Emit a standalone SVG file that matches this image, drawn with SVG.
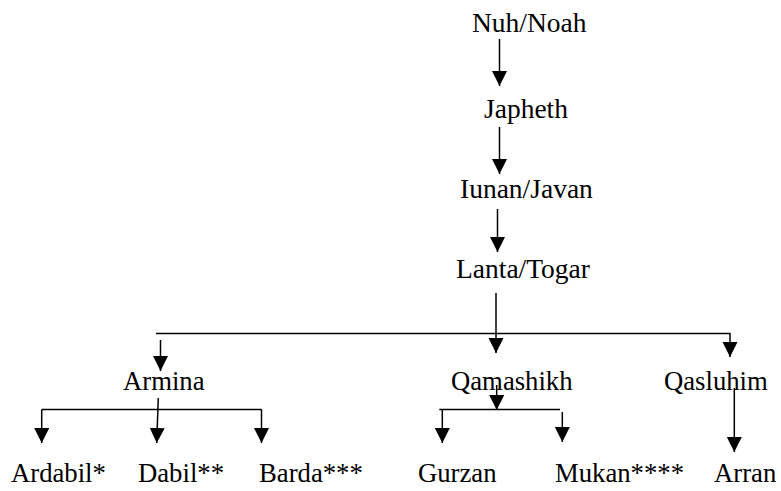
<svg xmlns="http://www.w3.org/2000/svg" width="781" height="491" viewBox="0 0 781 491">
  <defs>
    <marker id="arrow" markerUnits="userSpaceOnUse" markerWidth="16" markerHeight="16" refX="15" refY="7.5" orient="auto">
      <path d="M0,0 L15,7.5 L0,15 z" fill="#000"/>
    </marker>
  </defs>
  <style>
    text { font-family: 'Liberation Serif', Tinos, 'Times New Roman', 'Nimbus Roman', 'Noto Serif', 'DejaVu Serif', serif; fill: #000; }
    .top { font-size: 27.5px; }
    .low { font-size: 26.7px; }
    .ln { fill: none; stroke: #000; stroke-width: 1.5; }
    .arr { fill: none; stroke: #000; stroke-width: 1.5; marker-end: url(#arrow); }
  </style>
  <rect width="781" height="491" fill="#fff"/>

  <!-- connectors -->
  <g id="connectors">
    <path class="arr" d="M499.5,39 V86"/>
    <path class="arr" d="M499.5,127 V174"/>
    <path class="arr" d="M497.5,209 V252"/>
    <path class="arr" d="M496,293 V353"/>
    <path class="arr" d="M156,333.5 H730 V357"/>
    <path class="arr" d="M160.5,340 V371"/>
    <!-- Armina's children -->
    <path class="arr" d="M158.3,398 L156.7,443"/>
    <path class="ln" d="M41.7,409.5 H261.7"/>
    <path class="arr" d="M41.7,409.5 V443"/>
    <path class="arr" d="M261.5,409.5 V443"/>
    <!-- Qamashikh's children -->
    <path class="arr" d="M496.7,385 V410"/>
    <path class="ln" d="M439.3,409.5 H560"/>
    <path class="arr" d="M442.3,409.5 V443"/>
    <path class="arr" d="M562.3,412 V442"/>
    <!-- Qasluhim's child -->
    <path class="arr" d="M734.3,388 V452"/>
  </g>

  <g id="noah"><text class="top" x="472" y="32">Nuh/Noah</text></g>
  <g id="japheth"><text class="top" x="484" y="118">Japheth</text></g>
  <g id="javan"><text class="top" x="460" y="198">Iunan/Javan</text></g>
  <g id="togar"><text class="top" x="456" y="278">Lanta/Togar</text></g>

  <g id="armina"><text class="low" x="123" y="390">Armina</text></g>
  <g id="qamashikh"><text class="low" x="451" y="390">Qamashikh</text></g>
  <g id="qasluhim"><text class="low" x="664" y="390">Qasluhim</text></g>

  <g id="ardabil"><text class="low" x="11" y="481.7">Ardabil*</text></g>
  <g id="dabil"><text class="low" x="138" y="481.7">Dabil**</text></g>
  <g id="barda"><text class="low" x="259" y="481.7">Barda***</text></g>
  <g id="gurzan"><text class="low" x="418" y="481.7">Gurzan</text></g>
  <g id="mukan"><text class="low" x="555" y="481.7">Mukan****</text></g>
  <g id="arran"><text class="low" x="714" y="481.7">Arran</text></g>
</svg>
